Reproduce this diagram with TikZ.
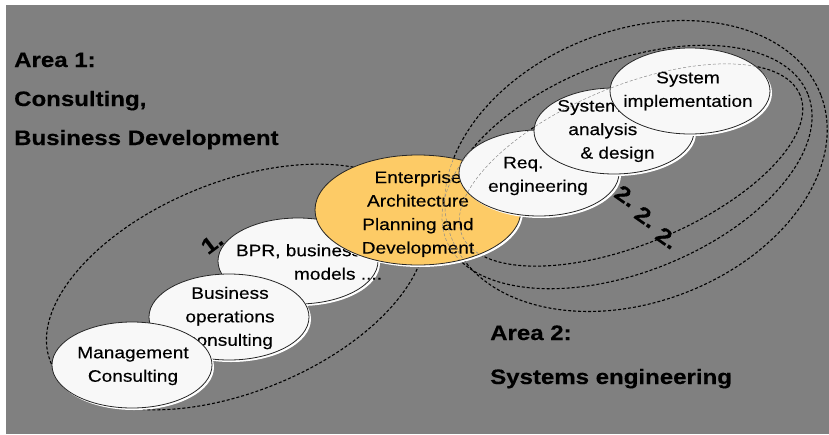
\documentclass[tikz,border=0pt]{standalone}
\usepackage{fontspec}
\setmainfont{Liberation Sans}[FakeStretch=1.15, FakeBold=0.3]
\usetikzlibrary{shapes.geometric,shadows}
\definecolor{bgray}{RGB}{128,128,128}
\definecolor{ora}{RGB}{253,203,102}
\definecolor{bubfill}{RGB}{248,248,248}
\tikzset{
  bub/.style={ellipse, draw=black!85, line width=0.8pt, fill=bubfill, inner sep=0pt,
    minimum width=160pt, minimum height=86pt,
    drop shadow={shadow xshift=2pt, shadow yshift=-2pt, fill=white, opacity=1}},
  orabub/.style={bub, fill=ora, minimum width=206pt, minimum height=110pt},
  lbl/.style={font=\fontsize{16.6}{23.5}\selectfont, align=center, inner sep=0pt},
  lbll/.style={lbl, align=left},
  head/.style={font=\fontsize{20.9}{24}\selectfont\bfseries, anchor=base west, inner sep=0pt},
  num/.style={font=\fontsize{22}{24}\selectfont\bfseries, inner sep=0pt},
  grp/.style={draw=black, line width=1.1pt, dash pattern=on 3pt off 2pt},
  grpfaint/.style={draw=black!45, line width=0.5pt, dash pattern=on 3pt off 2pt},
}
\begin{document}
\begin{tikzpicture}[x=1pt,y=-1pt]
\useasboundingbox (0,0) rectangle (829,434);
\fill[white] (0,0) rectangle (829,434);
\fill[bgray] (6,5) rectangle (829,434);

% group outlines
\draw[grp, rotate around={22:(236,287)}] (236,287) ellipse [x radius=200pt, y radius=105pt];
\draw[grp, rotate around={22.5:(631,165)}] (631,165) ellipse [x radius=183pt, y radius=79pt];
\draw[grp, rotate around={22:(627,167)}] (627,167) ellipse [x radius=195pt, y radius=105pt];
\draw[grp, rotate around={21:(636,166)}] (636,166) ellipse [x radius=198pt, y radius=136pt];

% bubbles
\node[bub] (bpr) at (298,261) {};
\node[lbll] (bprt) at (309,262) {BPR, business\\\hspace*{58pt}models ....};
\node[bub] (bo) at (229,317) {};
\node[lbl] (bot) at (230,318) {Business\\operations\\consulting};
\node[bub] (mc) at (132,365) {};
\node[lbl] (mct) at (133,366) {Management\\Consulting};
\node[orabub] (ea) at (418,210) {};
\node[lbl] (eat) at (418,214) {Enterprise\\Architecture\\Planning and\\Development};
\node[bub] (re) at (539,173) {};
\node[lbll] (ret) at (538,176) {\hspace*{15pt}Req.\\engineering};
\node[bub] (sa) at (614,131) {};
\node[lbll] (sat) at (606,131) {System\\\hspace*{11pt}analysis\\\hspace*{23pt}\& design};
\node[bub] (si) at (690,91) {};
\node[lbl] (sit) at (688,91) {System\\implementation};

% outlines seen through the bubbles
\begin{scope}
\clip (418,210) ellipse [x radius=103pt, y radius=55pt]
      (539,173) ellipse [x radius=80pt, y radius=43pt]
      (614,131) ellipse [x radius=80pt, y radius=43pt]
      (690,91) ellipse [x radius=80pt, y radius=43pt];
\draw[grpfaint, rotate around={22.5:(631,165)}] (631,165) ellipse [x radius=183pt, y radius=79pt];
\draw[grpfaint, rotate around={22:(627,167)}] (627,167) ellipse [x radius=195pt, y radius=105pt];
\draw[grpfaint, rotate around={21:(636,166)}] (636,166) ellipse [x radius=198pt, y radius=136pt];
\end{scope}

% numbers
\node[num, rotate=37] (n1) at (212,243) {1.};
\node[num, rotate=-35] (n2a) at (626,196) {2.};
\node[num, rotate=-35] (n2b) at (646,217) {2.};
\node[num, rotate=-35] (n2c) at (667,238) {2.};

% headings
\node[head] (a1) at (14,67) {Area 1:};
\node[head] (a1b) at (14,106) {Consulting,};
\node[head] (a1c) at (14,145) {Business Development};
\node[head] (a2) at (490,340) {Area 2:};
\node[head] (a2b) at (490,384) {Systems engineering};
\end{tikzpicture}
\end{document}
